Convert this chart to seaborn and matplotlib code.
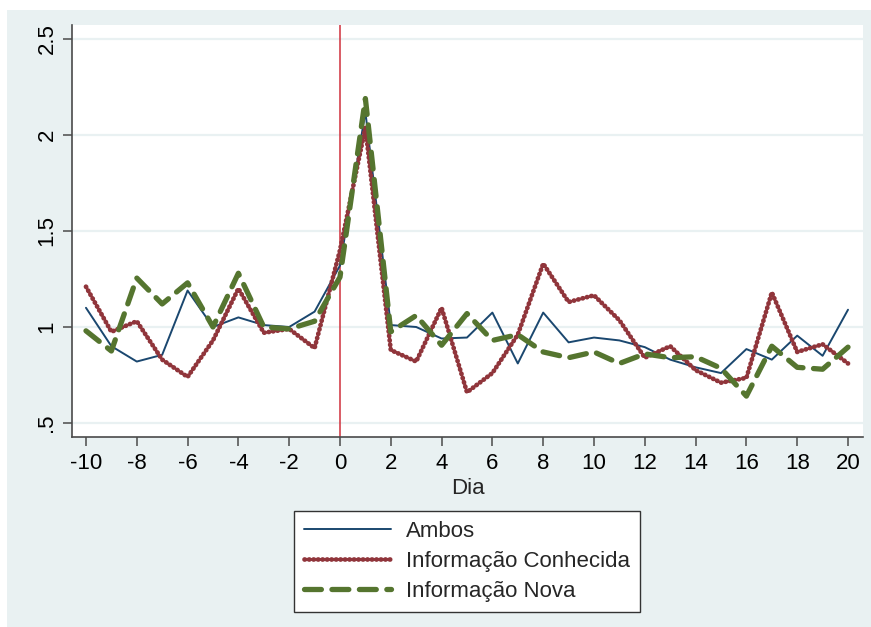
import matplotlib
matplotlib.use("Agg")
import matplotlib.pyplot as plt
import seaborn as sns
import pandas as pd
from matplotlib.patches import Rectangle

# ---- data ----
dias = list(range(-10, 21))
ambos = [1.10, 0.90, 0.82, 0.855, 1.19, 1.00, 1.05, 1.01, 1.00, 1.08,
         1.32, 2.12, 1.01, 1.00, 0.94, 0.945, 1.075, 0.81, 1.075, 0.92,
         0.945, 0.93, 0.895, 0.83, 0.79, 0.76, 0.885, 0.83, 0.955, 0.85, 1.09]
conhecida = [1.21, 0.975, 1.03, 0.83, 0.74, 0.93, 1.20, 0.97, 0.99, 0.89,
             1.40, 2.04, 0.88, 0.82, 1.10, 0.66, 0.76, 0.96, 1.33, 1.13,
             1.165, 1.035, 0.84, 0.90, 0.775, 0.71, 0.735, 1.18, 0.87, 0.91, 0.81]
nova = [0.98, 0.875, 1.255, 1.12, 1.23, 1.00, 1.28, 1.00, 0.99, 1.03,
        1.26, 2.19, 0.975, 1.06, 0.905, 1.07, 0.93, 0.96, 0.87, 0.84,
        0.87, 0.81, 0.86, 0.84, 0.845, 0.785, 0.64, 0.90, 0.79, 0.78, 0.895]
series_labels = ["Ambos", "Informação Conhecida", "Informação Nova"]
xticks = list(range(-10, 21, 2))
yticks = [0.5, 1.0, 1.5, 2.0, 2.5]
ytick_labels = [".5", "1", "1.5", "2", "2.5"]
x_label = "Dia"
event_day = 0

# ---- style ----
sns.set_style("white")
plt.rcParams["font.family"] = ["Liberation Sans", "DejaVu Sans"]

BG = "#e9f1f2"
AXC = "#4a4a4a"
W, H = 871, 627
FS = 16

fig = plt.figure(figsize=(W / 100, H / 100), dpi=100, facecolor="white")
bg = Rectangle((7 / W, 0), 1 - 7 / W, 1 - 10 / H,
               transform=fig.transFigure, facecolor=BG,
               edgecolor="none", zorder=-10)
fig.patches.append(bg)

ax = fig.add_axes([72 / W, 1 - 437 / H, (863 - 72) / W, (437 - 25) / H])
ax.set_zorder(1)
ax.set_facecolor("white")

df = pd.DataFrame({"Dia": dias, "Ambos": ambos,
                   "Conhecida": conhecida, "Nova": nova})

ax.yaxis.grid(True, color=BG, linewidth=1.6, zorder=0)
ax.xaxis.grid(False)
ax.set_axisbelow(True)

ax.axvline(event_day, color="#d0303c", linewidth=1.1, zorder=1)

sns.lineplot(data=df, x="Dia", y="Ambos", ax=ax, color="#1a476f",
             linewidth=1.4, label=series_labels[0], zorder=3)
sns.lineplot(data=df, x="Dia", y="Conhecida", ax=ax, color="#90353b",
             linewidth=3.4, linestyle=(0, (0.1, 0.85)),
             dash_capstyle="round", label=series_labels[1], zorder=4)
sns.lineplot(data=df, x="Dia", y="Nova", ax=ax, color="#55752f",
             linewidth=3.8, linestyle=(0, (3.2, 2.0)),
             dash_capstyle="round", label=series_labels[2], zorder=5)

ax.set_xlim(-10.55, 20.59)
ax.set_ylim(0.427, 2.573)
ax.set_xticks(xticks)
ax.set_xticklabels([str(t) for t in xticks])
ax.set_yticks(yticks)
ax.set_yticklabels(ytick_labels, rotation=90, va="center")

for s in ["top", "right"]:
    ax.spines[s].set_visible(False)
for s in ["left", "bottom"]:
    ax.spines[s].set_color(AXC)
    ax.spines[s].set_linewidth(1.2)

ax.tick_params(axis="both", which="major", bottom=True, left=True,
               direction="out", length=6.5, width=1.1,
               color=AXC, labelsize=FS, labelcolor="black", pad=5)
ax.tick_params(axis="y", pad=4)
ax.set_xlabel(x_label, fontsize=FS, labelpad=3)
ax.set_ylabel("")

leg = ax.legend(loc="center", bbox_to_anchor=(467 / W, 1 - 561.5 / H),
                bbox_transform=fig.transFigure, fontsize=FS,
                handlelength=3.9, handletextpad=0.7, labelspacing=0.4,
                borderpad=0.45, frameon=True, fancybox=False,
                framealpha=1, facecolor="white", edgecolor="#333333")
leg.get_frame().set_linewidth(1.0)

fig.savefig("out.png", dpi=100, facecolor=fig.get_facecolor())
